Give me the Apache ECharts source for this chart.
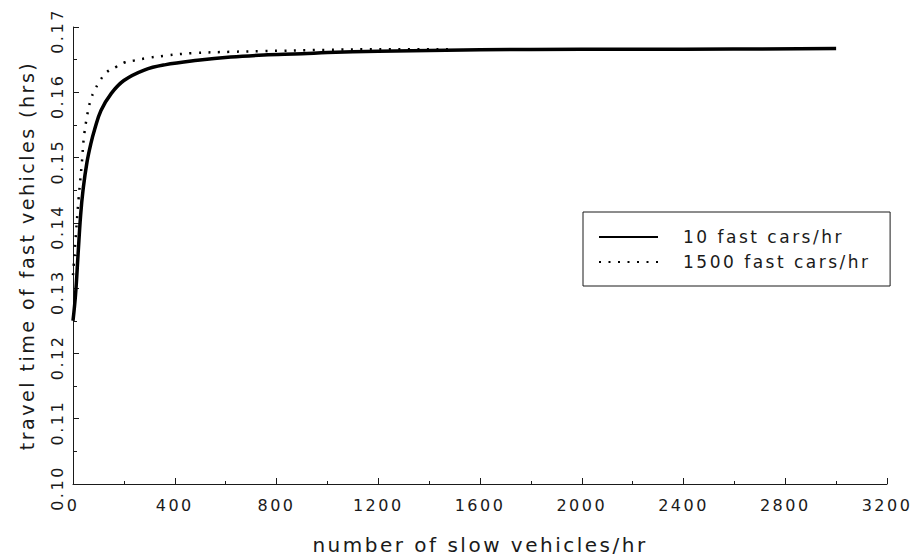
<!DOCTYPE html>
<html>
<head>
<meta charset="utf-8">
<script src="https://cdn.jsdelivr.net/npm/echarts@6/dist/echarts.min.js"></script>
<style>
  html, body { margin: 0; padding: 0; background: #fff; }
  #chart { width: 921px; height: 560px; letter-spacing: 2.5px; }
</style>
</head>
<body>
<div id="chart"></div>
<script>
// slow vehicles/hr (x) vs travel time of fast vehicles in hrs (y)
const slowSolid = [0, 10, 20, 30, 40, 55, 70, 85, 110, 150, 200, 280, 360, 490, 620, 750, 900, 1000, 1200, 1600, 2000, 2400, 3000]
const timeSolid = [0.1250, 0.1290, 0.1352, 0.1412, 0.1452, 0.1493, 0.1521, 0.1543, 0.1572, 0.1598, 0.1618, 0.1634, 0.1642, 0.1649, 0.1654, 0.1657, 0.1659, 0.1661, 0.1663, 0.1665, 0.1666, 0.1666, 0.1667]

const slowDotted = [0, 15, 22, 35, 42, 55, 70, 85, 105, 130, 170, 205, 245, 285, 360, 470, 620, 740, 1000, 1200, 1500]
const timeDotted = [0.1320, 0.1402, 0.1437, 0.1493, 0.1528, 0.1563, 0.1589, 0.1603, 0.1617, 0.1630, 0.1639, 0.1646, 0.1649, 0.1652, 0.1656, 0.1660, 0.1662, 0.1663, 0.1665, 0.1666, 0.1666]

const seriesNames = ['10 fast cars/hr', '1500 fast cars/hr']

const font = 'DejaVu Sans'
const ink = '#1a1a1a'

const pairs = (xs, ys) => xs.map((x, i) => [x, ys[i]])

const chart = echarts.init(document.getElementById('chart'), null, { renderer: 'svg' })

chart.setOption({
    animation: false,
    backgroundColor: '#fff',
    grid: { left: 73, right: 34, top: 27, bottom: 72 },
    legend: {
        orient: 'vertical',
        left: 583,
        top: 212,
        data: seriesNames,
        itemWidth: 59,
        itemHeight: 14,
        itemGap: 5,
        padding: [15, 62, 14, 15],
        borderColor: ink,
        borderWidth: 1,
        borderRadius: 0,
        selectedMode: false,
        itemStyle: { opacity: 0 },
        textStyle: { fontFamily: font, fontSize: 17, color: ink, lineHeight: 20, padding: [0, 0, 0, 20] }
    },
    xAxis: {
        type: 'value',
        min: 0,
        max: 3200,
        interval: 400,
        name: 'number of slow vehicles/hr',
        nameLocation: 'middle',
        nameGap: 51,
        nameTextStyle: { fontFamily: font, fontSize: 20, color: ink },
        axisLine: { lineStyle: { color: ink, width: 1 } },
        axisTick: { inside: true, length: 6, lineStyle: { color: ink } },
        minorTick: { show: true, splitNumber: 2, length: 3, lineStyle: { color: ink } },
        axisLabel: { fontFamily: font, fontSize: 16, color: ink, margin: 13, formatter: v => String(v) },
        splitLine: { show: false }
    },
    yAxis: {
        type: 'value',
        min: 0.10,
        max: 0.17,
        interval: 0.01,
        name: 'travel time of fast vehicles (hrs)',
        nameLocation: 'middle',
        nameRotate: 90,
        nameGap: 37,
        nameTextStyle: { fontFamily: font, fontSize: 19, color: ink },
        axisLine: { show: true, lineStyle: { color: ink, width: 1 } },
        axisTick: { show: true, inside: true, length: 6, lineStyle: { color: ink } },
        minorTick: { show: true, splitNumber: 2, length: 4, lineStyle: { color: ink } },
        axisLabel: {
            rotate: 90,
            margin: 8,
            fontFamily: font,
            fontSize: 16,
            color: ink,
            padding: [0, 8, 0, 0],
            formatter: v => v.toFixed(2)
        },
        splitLine: { show: false }
    },
    series: [
        {
            name: seriesNames[0],
            type: 'line',
            smooth: 0.4,
            symbol: 'none',
            data: pairs(slowSolid, timeSolid),
            itemStyle: { color: '#000' },
            lineStyle: { color: '#000', width: 3.5 },
            z: 3
        },
        {
            name: seriesNames[1],
            type: 'line',
            smooth: 0.4,
            symbol: 'none',
            data: pairs(slowDotted, timeDotted),
            itemStyle: { color: '#000' },
            lineStyle: { color: '#000', width: 2.5, type: [2, 7.5], cap: 'butt' },
            z: 2
        }
    ]
})
</script>
</body>
</html>
